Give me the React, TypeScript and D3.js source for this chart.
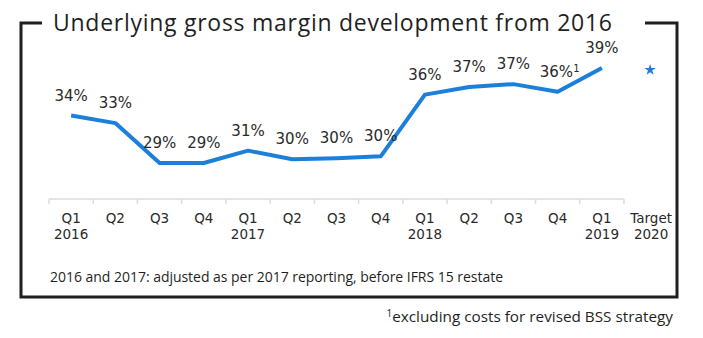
import React from "react";
import * as d3 from "d3";

const quarters = ["Q1", "Q2", "Q3", "Q4", "Q1", "Q2", "Q3", "Q4", "Q1", "Q2", "Q3", "Q4", "Q1", "Target"];
const years = ["2016", "", "", "", "2017", "", "", "", "2018", "", "", "", "2019", "2020"];
const margins = [34.0, 33.2, 29.0, 29.0, 30.3, 29.4, 29.5, 29.7, 36.2, 37.0, 37.3, 36.5, 39.0];
const marginLabels = ["34%", "33%", "29%", "29%", "31%", "30%", "30%", "30%", "36%", "37%", "37%", "36%", "39%"];
const footnoteMarks = ["", "", "", "", "", "", "", "", "", "", "", "1", ""];
const targetValue = 38.8;

const title = "Underlying gross margin development from 2016";
const note = "2016 and 2017: adjusted as per 2017 reporting, before IFRS 15 restate";
const footnote = "excluding costs for revised BSS strategy";

const BLUE = "#1c7fda";
const DARK = "#1f1f1f";
const SANS = "'Open Sans', 'Noto Sans', sans-serif";
const LBL = "'DejaVu Sans', sans-serif";

export default function App() {
  const ids = quarters.map((_, i) => String(i));
  const x = d3.scaleBand<string>().domain(ids).range([49, 49 + 14 * 44.23]).padding(0);
  const bw = x.bandwidth();
  const cx = (i: number) => (x(String(i)) as number) + bw / 2;
  const y = d3.scaleLinear().domain([29, 39]).range([163, 68]);

  const line = d3
    .line<number>()
    .x((_, i) => cx(i))
    .y((d) => y(d));

  const star = d3.symbol().type(d3.symbolStar).size(40)();
  const axisEnd = x(String(12))! + bw;
  const targetDx = 5;

  return (
    <svg
      width={703}
      height={338}
      style={{ position: "absolute", left: 0, top: 0, background: "#fff" }}
    >
      {/* frame */}
      <path
        d="M42,23 H21 V297 H677 V23 H645"
        fill="none"
        stroke={DARK}
        strokeWidth={3}
      />
      <text
        x={53}
        y={31}
        fontFamily={SANS}
        fontSize={23}
        fill={DARK}
        textLength={559}
        lengthAdjust="spacing"
      >
        {title}
      </text>

      {/* axis */}
      <line x1={49} x2={axisEnd} y1={199} y2={199} stroke="#dcdcdc" strokeWidth={1.5} />
      {d3.range(0, 14).map((i) => (
        <line
          key={"t" + i}
          x1={x(String(i))!}
          x2={x(String(i))!}
          y1={199}
          y2={204}
          stroke="#dcdcdc"
          strokeWidth={1.5}
        />
      ))}
      {quarters.map((q, i) => (
        <g key={"l" + i} fontFamily={LBL} fontSize={13.5} fill="#2a2a2a" textAnchor="middle">
          <text x={cx(i) + (i === 13 ? targetDx : 0)} y={223}>
            {q}
          </text>
          {years[i] && (
            <text x={cx(i) + (i === 13 ? targetDx : 0)} y={239}>
              {years[i]}
            </text>
          )}
        </g>
      ))}

      {/* line */}
      <path
        d={line(margins) || ""}
        fill="none"
        stroke={BLUE}
        strokeWidth={4}
        strokeLinejoin="round"
      />
      {margins.map((v, i) => (
        <text
          key={"v" + i}
          x={cx(i) + (footnoteMarks[i] ? 2 : 0)}
          y={y(v) - 15}
          fontFamily={LBL}
          fontSize={15}
          fill="#2a2a2a"
          textAnchor="middle"
        >
          {marginLabels[i]}
          {footnoteMarks[i] && (
            <tspan fontSize={10} dy={-5}>
              {footnoteMarks[i]}
            </tspan>
          )}
        </text>
      ))}
      <path
        d={star || ""}
        transform={`translate(${cx(13) + 4},${y(targetValue)})`}
        fill={BLUE}
      />

      {/* notes */}
      <text
        x={50}
        y={282}
        fontFamily={SANS}
        fontSize={14}
        fill={DARK}
        textLength={453}
        lengthAdjust="spacing"
      >
        {note}
      </text>
      <text x={673} y={322} fontFamily={SANS} fontSize={15.3} fill={DARK} textAnchor="end">
        <tspan fontSize={10} dy={-5}>1</tspan>
        <tspan dy={5}>{footnote}</tspan>
      </text>
    </svg>
  );
}
